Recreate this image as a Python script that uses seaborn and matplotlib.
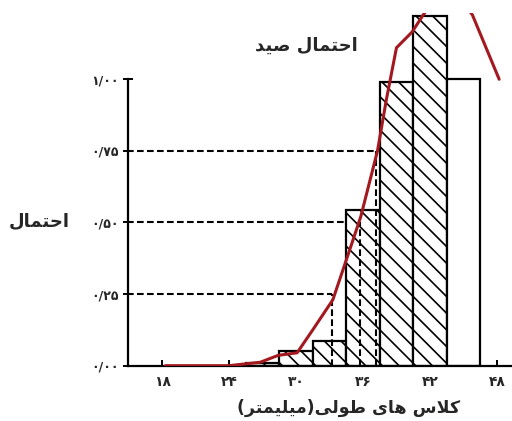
import matplotlib
matplotlib.use("Agg")
import matplotlib.pyplot as plt
import seaborn as sns
import numpy as np

# Length classes (mm, class centres) and the probability of capture per class
bin_centers = [27, 30, 33, 36, 39, 42, 45]
bin_prob = [0.01, 0.05, 0.085, 0.545, 0.99, 1.22, 1.00]
hatched = [True, True, True, True, True, True, False]

# Fitted selectivity curve
curve_x = [18.3, 24.0, 26.8, 28.4, 30.1, 31.5, 33.3, 34.6, 35.8, 37.3, 38.1,
           39.0, 40.4, 41.4, 43.6, 45.8, 48.2]
curve_y = [0.0, 0.0, 0.012, 0.036, 0.045, 0.125, 0.23, 0.38, 0.52, 0.75, 0.93,
           1.11, 1.165, 1.225, 1.34, 1.225, 1.0]

# Lengths at 25%, 50% and 75% capture probability
ref_prob = [0.25, 0.50, 0.75]
ref_len = [33.2, 35.7, 37.2]

x_ticks = [18, 24, 30, 36, 42, 48]
x_tick_labels = ["۱۸", "۲۴", "۳۰", "۳۶", "۴۲", "۴۸"]
y_ticks = [0.0, 0.25, 0.50, 0.75, 1.00]
y_tick_labels = ["۰/۰۰", "۰/۲۵", "۰/۵۰", "۰/۷۵", "۱/۰۰"]

title_text = "احتمال صید"
y_title = "احتمال"
x_title = "کلاس های طولی(میلیمتر)"

# --- minimal Arabic-script shaping (contextual forms + RTL order) ---
FORMS = {  # isolated, final, initial, medial
    "ا": ("\uFE8D", "\uFE8E", None, None),
    "د": ("\uFEA9", "\uFEAA", None, None),
    "ر": ("\uFEAD", "\uFEAE", None, None),
    "و": ("\uFEED", "\uFEEE", None, None),
    "ح": ("\uFEA1", "\uFEA2", "\uFEA3", "\uFEA4"),
    "ت": ("\uFE95", "\uFE96", "\uFE97", "\uFE98"),
    "م": ("\uFEE1", "\uFEE2", "\uFEE3", "\uFEE4"),
    "ل": ("\uFEDD", "\uFEDE", "\uFEDF", "\uFEE0"),
    "ص": ("\uFEB9", "\uFEBA", "\uFEBB", "\uFEBC"),
    "س": ("\uFEB1", "\uFEB2", "\uFEB3", "\uFEB4"),
    "ه": ("\uFEE9", "\uFEEA", "\uFEEB", "\uFEEC"),
    "ط": ("\uFEC1", "\uFEC2", "\uFEC3", "\uFEC4"),
    "ک": ("\uFB8E", "\uFB8F", "\uFB90", "\uFB91"),
    "ی": ("\uFBFC", "\uFBFD", "\uFBFE", "\uFBFF"),
}
MIRROR = {"(": ")", ")": "("}


def joins_forward(c):
    return c in FORMS and FORMS[c][2] is not None


def shape(text):
    out = []
    i = 0
    n = len(text)
    while i < n:
        c = text[i]
        if c not in FORMS:
            out.append(MIRROR.get(c, c))
            i += 1
            continue
        prev = text[i - 1] if i > 0 else ""
        linked_prev = joins_forward(prev)
        if c == "ل" and i + 1 < n and text[i + 1] == "ا":
            out.append("\uFEFC" if linked_prev else "\uFEFB")
            i += 2
            continue
        nxt = text[i + 1] if i + 1 < n else ""
        linked_next = joins_forward(c) and nxt in FORMS
        iso, fin, ini, med = FORMS[c]
        if linked_prev and linked_next:
            out.append(med)
        elif linked_prev:
            out.append(fin)
        elif linked_next:
            out.append(ini)
        else:
            out.append(iso)
        i += 1
    return "".join(reversed(out))


sns.set_theme(style="white")
plt.rcParams["font.family"] = ["DejaVu Sans"]
plt.rcParams["hatch.color"] = "black"
plt.rcParams["hatch.linewidth"] = 1.2

fig = plt.figure(figsize=(5.12, 4.21), dpi=100)
ax = fig.add_axes([0.25, 0.1314, 0.75, 0.8368])

red = "#a3191f"
dash = (0, (3.2, 1.6))

# horizontal guides at 25/50/75 % sit beneath the bars
ax.hlines(ref_prob, xmin=14.0, xmax=ref_len, colors="black",
          linestyles=[dash], linewidth=1.5, zorder=1)

sns.barplot(x=bin_centers, y=bin_prob, native_scale=True, width=1.0,
            color="white", saturation=1, edgecolor="black", linewidth=1.6,
            ax=ax, zorder=2)

# hatch each bar according to its class centre
for patch in ax.patches:
    centre = patch.get_x() + patch.get_width() / 2
    k = int(np.argmin([abs(centre - c) for c in bin_centers]))
    patch.set_facecolor("white")
    patch.set_edgecolor("black")
    patch.set_hatch("\\\\" if hatched[k] else None)

# vertical drops from the curve to the length axis
ax.vlines(ref_len, 0, ref_prob, colors="black", linestyles=[dash],
          linewidth=1.5, zorder=3)

sns.lineplot(x=curve_x, y=curve_y, sort=False, color=red, linewidth=2.2,
             ax=ax, zorder=4)

ax.set_xlim(14.95, 49.35)
ax.set_ylim(0, 1.23)
ax.set_xticks(x_ticks)
ax.set_xticklabels(x_tick_labels, fontsize=10, fontweight="bold")
ax.set_yticks(y_ticks)
ax.set_yticklabels(y_tick_labels, fontsize=9, fontweight="bold")
ax.set_xlabel("")
ax.set_ylabel("")

for side in ("top", "right"):
    ax.spines[side].set_visible(False)
for side in ("left", "bottom"):
    ax.spines[side].set_color("black")
    ax.spines[side].set_linewidth(1.6)
ax.spines["left"].set_bounds(0, 1.0)
ax.set_axisbelow(True)
ax.tick_params(axis="x", direction="in", length=4, width=1.4, color="black",
               pad=7, bottom=True)
ax.tick_params(axis="y", direction="inout", length=7, width=1.4,
               color="black", pad=3, left=True)
ax.grid(False)

fig.text(306 / 512, 1 - 46 / 421, shape(title_text), ha="center",
         va="center", fontsize=13, fontweight="bold")
fig.text(39 / 512, 1 - 221 / 421, shape(y_title), ha="center", va="center",
         fontsize=13, fontweight="bold")
fig.text(349 / 512, 1 - 408 / 421, shape(x_title), ha="center", va="center",
         fontsize=12.5, fontweight="bold")

fig.savefig("out.png", dpi=100)
